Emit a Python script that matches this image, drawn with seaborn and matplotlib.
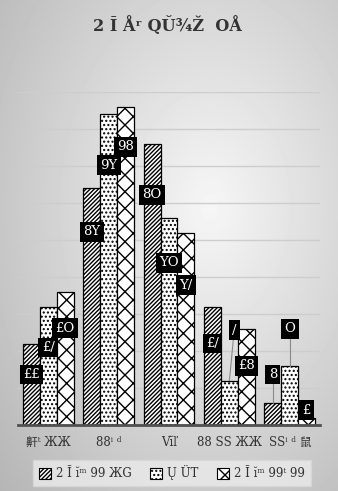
import numpy as np
import pandas as pd
import matplotlib
matplotlib.use("Agg")
import matplotlib.pyplot as plt
import seaborn as sns
from matplotlib.patches import Patch

# ---- data ----
title = "2 Ī Åʳ QŬ¾Ž  OÅ"
categories = ["鼾ᵗ ЖЖ", "88ⁱ ᵈ", "Vĭľ", "88 ЅЅ ЖЖ", "ЅЅⁱ ᵈ 鼠"]
series_names = ["2 Ī ĭᵐ 99 ЖG", "Ų ÜT", "2 Ī ĭᵐ 99ᵗ 99"]
series_a = [11, 32, 38, 16, 3]
series_b = [16, 42, 28, 6, 8]
series_c = [18, 43, 26, 13, 1]

# label placement (data units, vertical centre of each value box)
label_pos_a = [6.8, 26.1, 31.1, 11.0, 6.8]
label_pos_b = [10.5, 35.1, 21.9, 12.8, 13.0]
label_pos_c = [13.1, 37.6, 18.9, 8.0, 2.0]
label_dx_b = [0, 0, 0, 0.08, 0]

# glyphs used for digits in the reference rendering
digit_glyph = {"0": "0", "1": "£", "2": "Y", "3": "8", "4": "9", "5": "5",
               "6": "/", "7": "7", "8": "O", "9": "4"}

sns.set_theme(style="white")
plt.rcParams["font.family"] = ["DejaVu Serif", "Noto Sans CJK SC"]
plt.rcParams["hatch.linewidth"] = 1.0
plt.rcParams["hatch.color"] = "black"

W, H = 338, 491
fig = plt.figure(figsize=(W / 100, H / 100), dpi=100)

# background gradient
bg = fig.add_axes([0, 0, 1, 1], zorder=-10)
yy, xx = np.mgrid[0:H, 0:W]
cx, cy = 0.62 * W, 0.42 * H
r = np.sqrt(((xx - cx) / W) ** 2 + ((yy - cy) / H) ** 2)
val = np.clip(0.965 - 0.30 * r, 0, 1)
bg.imshow(val, cmap="gray", vmin=0, vmax=1, aspect="auto", interpolation="bilinear")
bg.axis("off")

ax = fig.add_axes([18 / W, 1 - 425 / H, 302 / W, 333 / H])
ax.set_facecolor("none")

df = pd.DataFrame({
    "cat": categories * 3,
    "series": [s for s in series_names for _ in categories],
    "value": series_a + series_b + series_c,
})
sns.barplot(data=df, x="cat", y="value", hue="series", order=categories,
            hue_order=series_names, width=0.84,
            palette={s: "white" for s in series_names}, saturation=1,
            edgecolor="black", linewidth=0.9, legend=False, ax=ax)

hatches = ["////////", "....", "xx"]
for cont, hatch in zip(ax.containers, hatches):
    for p in cont:
        p.set_hatch(hatch)
        p.set_facecolor("white")
        p.set_edgecolor("black")

ax.set_xlim(-0.5, 4.5)
ax.set_ylim(0, 45)
ax.set_yticks(range(5, 50, 5))
ax.set_yticklabels([])
ax.yaxis.grid(True, color="#cdcdcd", lw=1)
ax.xaxis.grid(False)
ax.set_axisbelow(True)
ax.tick_params(length=0)
ax.tick_params(axis="x", pad=8, labelsize=8.5, colors="#333333")
ax.set_xlabel("")
ax.set_ylabel("")
for s in ["left", "right", "top"]:
    ax.spines[s].set_visible(False)
ax.spines["bottom"].set_color("#505050")
ax.spines["bottom"].set_linewidth(2)

# value labels
all_vals = [series_a, series_b, series_c]
all_pos = [label_pos_a, label_pos_b, label_pos_c]
all_dx = [[0] * 5, label_dx_b, [0] * 5]
for cont, vals, pos, dxs in zip(ax.containers, all_vals, all_pos, all_dx):
    for p, v, ly, dx in zip(cont, vals, pos, dxs):
        xc = p.get_x() + p.get_width() / 2
        txt = "".join(digit_glyph[c] for c in str(v))
        if ly - 1.0 > v:
            ax.plot([xc, xc + dx], [v, ly], color="#8a8a8a", lw=0.8, zorder=4)
        ax.text(xc + dx, ly, txt, ha="center", va="center", color="white",
                fontsize=9.5, zorder=5,
                bbox=dict(boxstyle="square,pad=0.25", fc="black", ec="none"))

fig.text(0.495, 1 - 25 / H, title, ha="center", va="center",
         fontsize=11.5, fontweight="bold", color="#333333")

handles = [Patch(facecolor="white", edgecolor="black", hatch=h, lw=0.8)
           for h in hatches]
leg = fig.legend(handles, series_names, loc="center",
                 bbox_to_anchor=(172 / W, 1 - 473 / H), ncol=3,
                 frameon=True, fontsize=8.5, handlelength=1.0,
                 handleheight=1.0, columnspacing=1.6, handletextpad=0.4,
                 fancybox=False, borderpad=0.5, borderaxespad=0)
leg.get_frame().set_facecolor("#ebebeb")
leg.get_frame().set_edgecolor("#d8d8d8")
for t in leg.get_texts():
    t.set_color("#333333")

fig.savefig("out.png", dpi=100)
